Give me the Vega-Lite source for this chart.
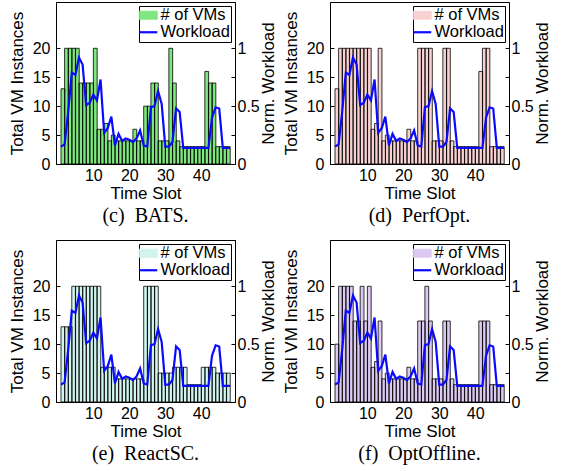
{
  "$schema": "https://vega.github.io/schema/vega-lite/v6.json",
  "padding": {"left": 7, "top": 1, "right": 0, "bottom": 0},
  "background": "white",
  "config": {
    "font": "Liberation Sans",
    "view": {"stroke": "black", "strokeWidth": 1},
    "axis": {"domainColor": "black", "tickColor": "black", "labelColor": "black", "titleColor": "black", "labelFontSize": 16, "titleFontSize": 17, "titleFontWeight": "normal", "grid": false, "tickSize": -4, "labelPadding": 10, "domainWidth": 1, "tickWidth": 1, "labelFont": "Liberation Sans", "titleFont": "Liberation Sans"},
    "axisX": {"labelPadding": 7, "titlePadding": 2},
    "axisLeft": {"titlePadding": 6},
    "axisRight": {"labelPadding": 6, "titlePadding": 1, "titleAngle": 270, "titleBaseline": "top"},
    "legend": {"orient": "top-right", "offset": 4, "strokeColor": "black", "fillColor": "white", "padding": 1, "labelFontSize": 16.5, "labelColor": "black", "labelFont": "Liberation Sans", "rowPadding": 0, "labelOffset": 4, "title": null, "symbolSize": 324, "symbolOpacity": 1},
    "title": {"font": "Liberation Serif", "fontSize": 20, "fontWeight": "normal", "color": "black", "orient": "bottom", "offset": 5, "anchor": "middle"},
    "concat": {"spacing": 4}
  },
  "datasets": {
    "vms": [
      {"slot": 1, "BATS": 13, "PerfOpt": 13, "ReactSC": 13, "OptOffline": 10},
      {"slot": 2, "BATS": 20, "PerfOpt": 20, "ReactSC": 13, "OptOffline": 20},
      {"slot": 3, "BATS": 20, "PerfOpt": 20, "ReactSC": 13, "OptOffline": 20},
      {"slot": 4, "BATS": 20, "PerfOpt": 20, "ReactSC": 20, "OptOffline": 20},
      {"slot": 5, "BATS": 20, "PerfOpt": 20, "ReactSC": 20, "OptOffline": 20},
      {"slot": 6, "BATS": 14, "PerfOpt": 20, "ReactSC": 20, "OptOffline": 14},
      {"slot": 7, "BATS": 14, "PerfOpt": 20, "ReactSC": 20, "OptOffline": 14},
      {"slot": 8, "BATS": 14, "PerfOpt": 20, "ReactSC": 20, "OptOffline": 20},
      {"slot": 9, "BATS": 14, "PerfOpt": 20, "ReactSC": 20, "OptOffline": 14},
      {"slot": 10, "BATS": 20, "PerfOpt": 20, "ReactSC": 20, "OptOffline": 20},
      {"slot": 11, "BATS": 6, "PerfOpt": 6, "ReactSC": 20, "OptOffline": 6},
      {"slot": 12, "BATS": 6, "PerfOpt": 7, "ReactSC": 6, "OptOffline": 7},
      {"slot": 13, "BATS": 7, "PerfOpt": 20, "ReactSC": 6, "OptOffline": 14},
      {"slot": 14, "BATS": 4, "PerfOpt": 4, "ReactSC": 6, "OptOffline": 4},
      {"slot": 15, "BATS": 5, "PerfOpt": 5, "ReactSC": 6, "OptOffline": 5},
      {"slot": 16, "BATS": 4, "PerfOpt": 4, "ReactSC": 4, "OptOffline": 4},
      {"slot": 17, "BATS": 4, "PerfOpt": 4, "ReactSC": 4, "OptOffline": 4},
      {"slot": 18, "BATS": 4, "PerfOpt": 4, "ReactSC": 4, "OptOffline": 4},
      {"slot": 19, "BATS": 4, "PerfOpt": 4, "ReactSC": 4, "OptOffline": 4},
      {"slot": 20, "BATS": 4, "PerfOpt": 4, "ReactSC": 4, "OptOffline": 4},
      {"slot": 21, "BATS": 6, "PerfOpt": 6, "ReactSC": 4, "OptOffline": 6},
      {"slot": 22, "BATS": 4, "PerfOpt": 4, "ReactSC": 4, "OptOffline": 4},
      {"slot": 23, "BATS": 4, "PerfOpt": 4, "ReactSC": 4, "OptOffline": 4},
      {"slot": 24, "BATS": 10, "PerfOpt": 20, "ReactSC": 20, "OptOffline": 14},
      {"slot": 25, "BATS": 10, "PerfOpt": 20, "ReactSC": 20, "OptOffline": 14},
      {"slot": 26, "BATS": 14, "PerfOpt": 20, "ReactSC": 20, "OptOffline": 20},
      {"slot": 27, "BATS": 14, "PerfOpt": 20, "ReactSC": 20, "OptOffline": 14},
      {"slot": 28, "BATS": 4, "PerfOpt": 4, "ReactSC": 5, "OptOffline": 4},
      {"slot": 29, "BATS": 4, "PerfOpt": 4, "ReactSC": 5, "OptOffline": 4},
      {"slot": 30, "BATS": 4, "PerfOpt": 4, "ReactSC": 5, "OptOffline": 4},
      {"slot": 31, "BATS": 20, "PerfOpt": 20, "ReactSC": 5, "OptOffline": 14},
      {"slot": 32, "BATS": 14, "PerfOpt": 20, "ReactSC": 6, "OptOffline": 14},
      {"slot": 33, "BATS": 4, "PerfOpt": 4, "ReactSC": 6, "OptOffline": 4},
      {"slot": 34, "BATS": 3, "PerfOpt": 3, "ReactSC": 6, "OptOffline": 3},
      {"slot": 35, "BATS": 3, "PerfOpt": 3, "ReactSC": 6, "OptOffline": 3},
      {"slot": 36, "BATS": 3, "PerfOpt": 3, "ReactSC": 3, "OptOffline": 3},
      {"slot": 37, "BATS": 3, "PerfOpt": 3, "ReactSC": 3, "OptOffline": 3},
      {"slot": 38, "BATS": 3, "PerfOpt": 3, "ReactSC": 3, "OptOffline": 3},
      {"slot": 39, "BATS": 3, "PerfOpt": 3, "ReactSC": 3, "OptOffline": 3},
      {"slot": 40, "BATS": 3, "PerfOpt": 3, "ReactSC": 6, "OptOffline": 3},
      {"slot": 41, "BATS": 16, "PerfOpt": 16, "ReactSC": 6, "OptOffline": 14},
      {"slot": 42, "BATS": 14, "PerfOpt": 20, "ReactSC": 6, "OptOffline": 14},
      {"slot": 43, "BATS": 14, "PerfOpt": 20, "ReactSC": 6, "OptOffline": 14},
      {"slot": 44, "BATS": 3, "PerfOpt": 3, "ReactSC": 5, "OptOffline": 3},
      {"slot": 45, "BATS": 3, "PerfOpt": 3, "ReactSC": 5, "OptOffline": 3},
      {"slot": 46, "BATS": 3, "PerfOpt": 3, "ReactSC": 5, "OptOffline": 3},
      {"slot": 47, "BATS": 3, "PerfOpt": 3, "ReactSC": 5, "OptOffline": 3}
    ],
    "load": [
      {"slot": 1, "workload": 0.15}, {"slot": 2, "workload": 0.17}, {"slot": 3, "workload": 0.45},
      {"slot": 4, "workload": 0.79}, {"slot": 5, "workload": 0.77}, {"slot": 6, "workload": 0.92},
      {"slot": 7, "workload": 0.86}, {"slot": 8, "workload": 0.51}, {"slot": 9, "workload": 0.53},
      {"slot": 10, "workload": 0.6}, {"slot": 11, "workload": 0.55}, {"slot": 12, "workload": 0.73},
      {"slot": 13, "workload": 0.27}, {"slot": 14, "workload": 0.31}, {"slot": 15, "workload": 0.41},
      {"slot": 16, "workload": 0.16}, {"slot": 17, "workload": 0.26}, {"slot": 18, "workload": 0.2},
      {"slot": 19, "workload": 0.22}, {"slot": 20, "workload": 0.21}, {"slot": 21, "workload": 0.19},
      {"slot": 22, "workload": 0.22}, {"slot": 23, "workload": 0.29}, {"slot": 24, "workload": 0.16},
      {"slot": 25, "workload": 0.15}, {"slot": 26, "workload": 0.49}, {"slot": 27, "workload": 0.5},
      {"slot": 28, "workload": 0.63}, {"slot": 29, "workload": 0.52}, {"slot": 30, "workload": 0.15},
      {"slot": 31, "workload": 0.15}, {"slot": 32, "workload": 0.19}, {"slot": 33, "workload": 0.48},
      {"slot": 34, "workload": 0.45}, {"slot": 35, "workload": 0.14}, {"slot": 36, "workload": 0.14},
      {"slot": 37, "workload": 0.14}, {"slot": 38, "workload": 0.14}, {"slot": 39, "workload": 0.14},
      {"slot": 40, "workload": 0.14}, {"slot": 41, "workload": 0.14}, {"slot": 42, "workload": 0.14},
      {"slot": 43, "workload": 0.4}, {"slot": 44, "workload": 0.49}, {"slot": 45, "workload": 0.48},
      {"slot": 46, "workload": 0.14}, {"slot": 47, "workload": 0.14}, {"slot": 48, "workload": 0.14}
    ]
  },
  "vconcat": [
    {
      "hconcat": [
        {
          "width": 179, "height": 162,
          "title": {"text": "(c)\u00a0\u00a0BATS."},
          "layer": [
            {
              "data": {"name": "vms"},
              "encoding": {
                "x": {"field": "slot", "type": "quantitative", "scale": {"domain": [1, 48], "nice": false, "zero": false}, "axis": {"title": "Time Slot", "values": [10, 20, 30, 40]}},
                "y": {"field": "BATS", "type": "quantitative", "scale": {"domain": [0, 28], "nice": false}, "axis": {"title": "Total VM Instances", "values": [0, 5, 10, 15, 20]}}
              },
              "layer": [
                {
                  "mark": {"type": "bar", "width": 3.81, "xOffset": 1.905},
                  "encoding": {
                    "color": {"datum": "# of VMs", "scale": {"domain": ["# of VMs", "Workload"], "range": ["#7ee87e", "#0a0aff"]},
                      "legend": {"symbolType": {"expr": "datum.value === 'Workload' ? 'stroke' : 'M-1,-0.45H1V0.45H-1Z'"}, "symbolStrokeWidth": {"expr": "datum.value === 'Workload' ? 2.2 : 0.8"}, "symbolSize": 324}}
                  }
                },
                {
                  "mark": {"type": "bar", "width": 3.81, "xOffset": 1.905, "fill": null, "fillOpacity": 0, "stroke": "black", "strokeWidth": 0.8},
                  "encoding": {}
                }
              ]
            },
            {
              "data": {"name": "load"},
              "mark": {"type": "line", "strokeWidth": 2.2},
              "encoding": {
                "x": {"field": "slot", "type": "quantitative"},
                "y": {"field": "workload", "type": "quantitative", "scale": {"domain": [0, 1.4], "nice": false}, "axis": {"orient": "right", "title": "Norm. Workload", "values": [0, 0.25, 0.5, 0.75, 1], "format": "~g", "labelExpr": "datum.value == 0.25 || datum.value == 0.75 ? '' : datum.label"}},
                "color": {"datum": "Workload"}
              }
            }
          ],
          "resolve": {"scale": {"y": "independent"}}
        },
        {
          "width": 179, "height": 162,
          "title": {"text": "(d)\u00a0\u00a0PerfOpt."},
          "layer": [
            {
              "data": {"name": "vms"},
              "encoding": {
                "x": {"field": "slot", "type": "quantitative", "scale": {"domain": [1, 48], "nice": false, "zero": false}, "axis": {"title": "Time Slot", "values": [10, 20, 30, 40]}},
                "y": {"field": "PerfOpt", "type": "quantitative", "scale": {"domain": [0, 28], "nice": false}, "axis": {"title": "Total VM Instances", "values": [0, 5, 10, 15, 20]}}
              },
              "layer": [
                {
                  "mark": {"type": "bar", "width": 3.81, "xOffset": 1.905},
                  "encoding": {
                    "color": {"datum": "# of VMs", "scale": {"domain": ["# of VMs", "Workload"], "range": ["#f8d2d2", "#0a0aff"]},
                      "legend": {"symbolType": {"expr": "datum.value === 'Workload' ? 'stroke' : 'M-1,-0.45H1V0.45H-1Z'"}, "symbolStrokeWidth": {"expr": "datum.value === 'Workload' ? 2.2 : 0.8"}, "symbolSize": 324}}
                  }
                },
                {
                  "mark": {"type": "bar", "width": 3.81, "xOffset": 1.905, "fill": null, "fillOpacity": 0, "stroke": "black", "strokeWidth": 0.8},
                  "encoding": {}
                }
              ]
            },
            {
              "data": {"name": "load"},
              "mark": {"type": "line", "strokeWidth": 2.2},
              "encoding": {
                "x": {"field": "slot", "type": "quantitative"},
                "y": {"field": "workload", "type": "quantitative", "scale": {"domain": [0, 1.4], "nice": false}, "axis": {"orient": "right", "title": "Norm. Workload", "values": [0, 0.25, 0.5, 0.75, 1], "format": "~g", "labelExpr": "datum.value == 0.25 || datum.value == 0.75 ? '' : datum.label"}},
                "color": {"datum": "Workload"}
              }
            }
          ],
          "resolve": {"scale": {"y": "independent"}}
        }
      ],
      "resolve": {"scale": {"color": "independent", "y": "independent"}}
    },
    {
      "hconcat": [
        {
          "width": 179, "height": 162,
          "title": {"text": "(e)\u00a0\u00a0ReactSC."},
          "layer": [
            {
              "data": {"name": "vms"},
              "encoding": {
                "x": {"field": "slot", "type": "quantitative", "scale": {"domain": [1, 48], "nice": false, "zero": false}, "axis": {"title": "Time Slot", "values": [10, 20, 30, 40]}},
                "y": {"field": "ReactSC", "type": "quantitative", "scale": {"domain": [0, 28], "nice": false}, "axis": {"title": "Total VM Instances", "values": [0, 5, 10, 15, 20]}}
              },
              "layer": [
                {
                  "mark": {"type": "bar", "width": 3.81, "xOffset": 1.905},
                  "encoding": {
                    "color": {"datum": "# of VMs", "scale": {"domain": ["# of VMs", "Workload"], "range": ["#d2f4ef", "#0a0aff"]},
                      "legend": {"symbolType": {"expr": "datum.value === 'Workload' ? 'stroke' : 'M-1,-0.45H1V0.45H-1Z'"}, "symbolStrokeWidth": {"expr": "datum.value === 'Workload' ? 2.2 : 0.8"}, "symbolSize": 324}}
                  }
                },
                {
                  "mark": {"type": "bar", "width": 3.81, "xOffset": 1.905, "fill": null, "fillOpacity": 0, "stroke": "black", "strokeWidth": 0.8},
                  "encoding": {}
                }
              ]
            },
            {
              "data": {"name": "load"},
              "mark": {"type": "line", "strokeWidth": 2.2},
              "encoding": {
                "x": {"field": "slot", "type": "quantitative"},
                "y": {"field": "workload", "type": "quantitative", "scale": {"domain": [0, 1.4], "nice": false}, "axis": {"orient": "right", "title": "Norm. Workload", "values": [0, 0.25, 0.5, 0.75, 1], "format": "~g", "labelExpr": "datum.value == 0.25 || datum.value == 0.75 ? '' : datum.label"}},
                "color": {"datum": "Workload"}
              }
            }
          ],
          "resolve": {"scale": {"y": "independent"}}
        },
        {
          "width": 179, "height": 162,
          "title": {"text": "(f)\u00a0\u00a0OptOffline."},
          "layer": [
            {
              "data": {"name": "vms"},
              "encoding": {
                "x": {"field": "slot", "type": "quantitative", "scale": {"domain": [1, 48], "nice": false, "zero": false}, "axis": {"title": "Time Slot", "values": [10, 20, 30, 40]}},
                "y": {"field": "OptOffline", "type": "quantitative", "scale": {"domain": [0, 28], "nice": false}, "axis": {"title": "Total VM Instances", "values": [0, 5, 10, 15, 20]}}
              },
              "layer": [
                {
                  "mark": {"type": "bar", "width": 3.81, "xOffset": 1.905},
                  "encoding": {
                    "color": {"datum": "# of VMs", "scale": {"domain": ["# of VMs", "Workload"], "range": ["#dccaf2", "#0a0aff"]},
                      "legend": {"symbolType": {"expr": "datum.value === 'Workload' ? 'stroke' : 'M-1,-0.45H1V0.45H-1Z'"}, "symbolStrokeWidth": {"expr": "datum.value === 'Workload' ? 2.2 : 0.8"}, "symbolSize": 324}}
                  }
                },
                {
                  "mark": {"type": "bar", "width": 3.81, "xOffset": 1.905, "fill": null, "fillOpacity": 0, "stroke": "black", "strokeWidth": 0.8},
                  "encoding": {}
                }
              ]
            },
            {
              "data": {"name": "load"},
              "mark": {"type": "line", "strokeWidth": 2.2},
              "encoding": {
                "x": {"field": "slot", "type": "quantitative"},
                "y": {"field": "workload", "type": "quantitative", "scale": {"domain": [0, 1.4], "nice": false}, "axis": {"orient": "right", "title": "Norm. Workload", "values": [0, 0.25, 0.5, 0.75, 1], "format": "~g", "labelExpr": "datum.value == 0.25 || datum.value == 0.75 ? '' : datum.label"}},
                "color": {"datum": "Workload"}
              }
            }
          ],
          "resolve": {"scale": {"y": "independent"}}
        }
      ],
      "resolve": {"scale": {"color": "independent", "y": "independent"}}
    }
  ],
  "spacing": 12,
  "resolve": {"scale": {"color": "independent", "y": "independent"}}
}
